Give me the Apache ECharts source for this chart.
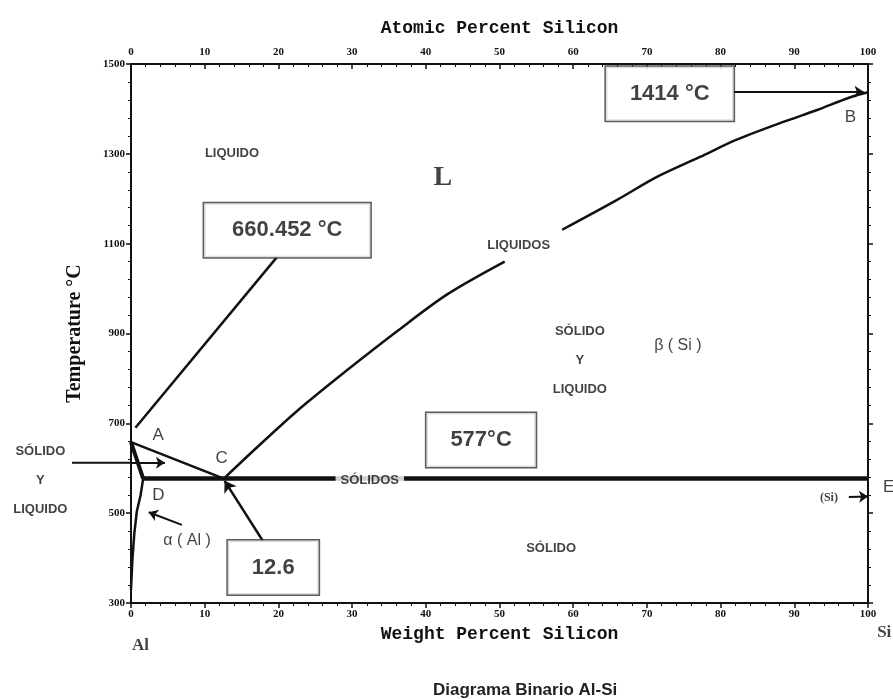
<!DOCTYPE html>
<html><head><meta charset="utf-8">
<script src="https://cdn.jsdelivr.net/npm/echarts@6/dist/echarts.min.js"></script>
<style>html,body{margin:0;padding:0;background:#fff}#c{width:893px;height:699px}</style>
</head><body><div id="c"></div>
<script>
// ---- data (weight % Si, temperature °C) ----
const liquidusAC = [[0, 658], [12.6, 577]];
const solidusAD = [[0, 658], [1.65, 577]];
const solvusAl = [[1.65, 577], [1.3, 540], [0.8, 505], [0.45, 455], [0.2, 400], [0, 330]];
const eutectic = [[1.65, 577], [100, 577]];
const liquidusCBlow = [[12.6, 577], [17, 645], [22.5, 727], [29.3, 818], [36.1, 905], [42.9, 987], [50.7, 1060]];
const liquidusCBhigh = [[58.5, 1131], [65.9, 1197], [71.3, 1248], [77.2, 1293], [82.1, 1331], [88.5, 1371], [93, 1397], [97.6, 1426], [100, 1437]];

const calloutBoxes = [['660.452 °C', 21.2, 1130], ['1414 °C', 73.1, 1434], ['577°C', 47.5, 663], ['12.6', 19.3, 379]];
const leaderLines = [[[19.8, 1070], [0.6, 690]]];
const leaderArrows = [[[17.9, 438], [12.7, 572]]];
const arrowLines = [[[81.7, 1438], [99.4, 1438]], [[0, 612], [4.6, 612]], [[6.9, 474], [2.4, 502]], [[97.4, 536], [100, 537]]];
const outerShaft = [[-8.0, 612], [0, 612]];
const regionLabels = [['LIQUIDO', 13.7, 1302], ['LIQUIDOS', 52.6, 1095], ['SÓLIDO\nY\nLIQUIDO', 60.9, 841],
  ['SÓLIDO', 57.0, 422], ['SÓLIDO\nY\nLIQUIDO', -12.3, 572]];
const maskedLabels = [['SÓLIDOS', 32.4, 574]];
const pointLetters = [['A', 3.7, 674], ['C', 12.3, 623], ['D', 3.7, 540], ['B', 97.6, 1382], ['E', 102.8, 558]];
const phaseLabels = [['β ( Si )', 74.2, 874], ['α ( Al )', 7.6, 440]];
const bigLetter = [['L', 42.3, 1246]];
const siLabel = [['(Si)', 94.7, 534]];
const endLabels = [['Al', 1.3, 206], ['Si', 102.2, 233]];

const FONT = 'Liberation Sans';
const chart = echarts.init(document.getElementById('c'), null, {renderer: 'canvas'});

function lineSeries(data, width) {
  return {type: 'line', data: data, showSymbol: false, symbol: 'none', clip: false, silent: true, animation: false,
    lineStyle: {color: '#111', width: width}, z: 3};
}
function textSeries(items, style, z, perItem) {
  return {type: 'scatter', clip: false, silent: true, animation: false, symbolSize: 1, z: z || 5,
    itemStyle: {color: 'rgba(0,0,0,0)'},
    data: items.map(it => ({value: [it[1], it[2]],
      label: Object.assign({show: true, position: 'inside', formatter: it[0], color: '#111'}, style, perItem ? perItem(it) : {})}))};
}
function markLines(lines, withArrow, width, size) {
  return {type: 'line', data: [], clip: false, silent: true, animation: false, z: 4,
    markLine: {silent: true, animation: false, symbol: withArrow ? ['none', 'arrow'] : ['none', 'none'], symbolSize: size || 9,
      label: {show: false}, emphasis: {disabled: true},
      lineStyle: {color: '#111', width: width, type: 'solid'},
      data: lines.map(l => [{coord: l[0]}, {coord: l[1]}])}};
}

const axisCommon = {
  axisLine: {show: true, onZero: false, lineStyle: {color: '#111', width: 2}},
  axisTick: {show: true, length: 5, lineStyle: {color: '#111', width: 1.5}},
  minorTick: {show: true, splitNumber: 5, length: 3, lineStyle: {color: '#111', width: 1}},
  splitLine: {show: false},
  axisLabel: {fontFamily: 'Liberation Serif', fontWeight: 'bold', fontSize: 11, color: '#111', margin: 6,
    formatter: v => String(v)}
};
const nameStyle = {fontFamily: 'Liberation Mono', fontWeight: 'bold', fontSize: 18, color: '#111'};

chart.setOption({
  animation: false,
  backgroundColor: '#fff',
  title: {text: 'Diagrama Binario Al-Si', left: 428, top: 677, textStyle: {fontFamily: FONT, fontWeight: 'bold', fontSize: 17, color: '#222'}},
  grid: {left: 131, top: 64, width: 737, height: 539},
  xAxis: [
    Object.assign({}, axisCommon, {type: 'value', min: 0, max: 100, interval: 10, position: 'bottom',
      name: 'Weight Percent Silicon', nameLocation: 'middle', nameGap: 22, nameTextStyle: nameStyle}),
    Object.assign({}, axisCommon, {type: 'value', min: 0, max: 100, interval: 10, position: 'top',
      axisTick: {show: true, inside: true, length: 5, lineStyle: {color: '#111', width: 1.5}},
      minorTick: {show: true, splitNumber: 5, length: 3, lineStyle: {color: '#111', width: 1}},
      name: 'Atomic Percent Silicon', nameLocation: 'middle', nameGap: 27, nameTextStyle: nameStyle})
  ],
  yAxis: [
    Object.assign({}, axisCommon, {type: 'value', min: 300, max: 1500, interval: 200, position: 'left',
      name: 'Temperature °C', nameLocation: 'middle', nameRotate: 90, nameGap: 46,
      nameTextStyle: {fontFamily: 'Liberation Serif', fontWeight: 'bold', fontSize: 20, color: '#111'}}),
    Object.assign({}, axisCommon, {type: 'value', min: 300, max: 1500, interval: 200, position: 'right',
      axisLabel: {show: false}})
  ],
  series: [
    lineSeries(liquidusAC, 2.5),
    lineSeries(solidusAD, 4),
    lineSeries(solvusAl, 2.5),
    lineSeries(eutectic, 4.5),
    Object.assign(lineSeries(liquidusCBlow, 2.5), {smooth: 0.3}),
    Object.assign(lineSeries(liquidusCBhigh, 2.5), {smooth: 0.3}),
    markLines(leaderLines, false, 2.5),
    markLines(leaderArrows, true, 2.5, 11),
    markLines(arrowLines, true, 2),
    textSeries(regionLabels, {fontFamily: FONT, fontWeight: 'bold', fontSize: 13, lineHeight: 29, align: 'center'}, 6),
    textSeries(maskedLabels, {fontFamily: FONT, fontWeight: 'bold', fontSize: 13, align: 'center',
      backgroundColor: '#fff', padding: [3, 5]}, 6),
    textSeries(pointLetters, {fontFamily: FONT, fontSize: 17}, 6),
    textSeries(phaseLabels, {fontFamily: FONT, fontSize: 16}, 6),
    textSeries(bigLetter, {fontFamily: 'Liberation Serif', fontWeight: 'bold', fontSize: 28}, 6),
    textSeries(siLabel, {fontFamily: 'Liberation Serif', fontWeight: 'bold', fontSize: 12}, 6),
    textSeries(endLabels, {fontFamily: 'Liberation Serif', fontWeight: 'bold', fontSize: 17}, 6),
    textSeries(calloutBoxes, {fontFamily: FONT, fontWeight: 'bold', fontSize: 22, lineHeight: 24,
      backgroundColor: '#fff', borderColor: '#333', borderWidth: 1.5}, 7,
      it => ({padding: [15, it[0].length > 8 ? 28 : 24]}))
  ]
});

// shaft of the left arrow lies outside the plotting area: convert its data ends through the axes
const p0 = chart.convertToPixel({xAxisIndex: 0, yAxisIndex: 0}, outerShaft[0]);
const p1 = chart.convertToPixel({xAxisIndex: 0, yAxisIndex: 0}, outerShaft[1]);
chart.setOption({
  graphic: [{type: 'line', silent: true, z: 10,
    shape: {x1: p0[0], y1: p0[1], x2: p1[0], y2: p1[1]},
    style: {stroke: '#111', lineWidth: 2}}]
});
</script></body></html>
